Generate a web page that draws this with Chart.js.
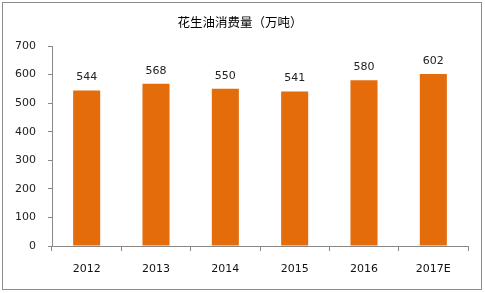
<!DOCTYPE html>
<html><head><meta charset="utf-8">
<script src="https://cdn.jsdelivr.net/npm/chart.js@4"></script>
<style>html,body{margin:0;padding:0;background:#fff;}#wrap{width:485px;height:293px;position:relative;}</style>
</head><body><div id="wrap"><canvas id="c" width="485" height="293"></canvas></div>
<script>
const categories = ["2012","2013","2014","2015","2016","2017E"];
const values = [544,568,550,541,580,602];
const yTicks = [0,100,200,300,400,500,600,700];
const title = "花生油消费量（万吨）";

const deco = {
  id:'deco',
  afterDraw(chart){
    const ctx = chart.ctx;
    ctx.save();
    ctx.strokeStyle = '#8c8c8c'; ctx.lineWidth = 1;
    ctx.strokeRect(2.5,2.5,479,287);
    ctx.fillStyle = '#000';
    ctx.font = '12.5px "Noto Sans CJK SC"';
    ctx.textAlign = 'center'; ctx.textBaseline = 'middle';
    ctx.fillText(title, 240, 22);
    const meta = chart.getDatasetMeta(0);
    ctx.font = '11px "DejaVu Sans"';
    ctx.fillStyle = '#222';
    meta.data.forEach((bar,i)=>{
      ctx.fillText(String(values[i]), bar.x, bar.y - 13);
    });
    ctx.restore();
  }
};

new Chart(document.getElementById('c'), {
  type:'bar',
  data:{labels:categories, datasets:[{data:values, backgroundColor:'#E46C0A', categoryPercentage:1, barPercentage:0.39}]},
  options:{
    responsive:false, animation:false,
    layout:{padding:{top:46,right:17,left:0,bottom:0}},
    plugins:{legend:{display:false}, tooltip:{enabled:false}},
    scales:{
      y:{min:0,max:700,
        afterBuildTicks(s){s.ticks = yTicks.map(v=>({value:v}));},
        afterFit(s){s.width=52;},
        grid:{drawOnChartArea:false, color:'#888', tickLength:4},
        border:{color:'#888'},
        ticks:{color:'#222', font:{family:'DejaVu Sans', size:11}, padding:12}
      },
      x:{
        afterFit(s){s.height=293-246;},
        grid:{drawOnChartArea:false, color:'#888', tickLength:5, offset:true},
        border:{color:'#888'},
        ticks:{color:'#111', font:{family:'DejaVu Sans', size:11}, padding:12, maxRotation:0}
      }
    }
  },
  plugins:[deco]
});
</script></body></html>
